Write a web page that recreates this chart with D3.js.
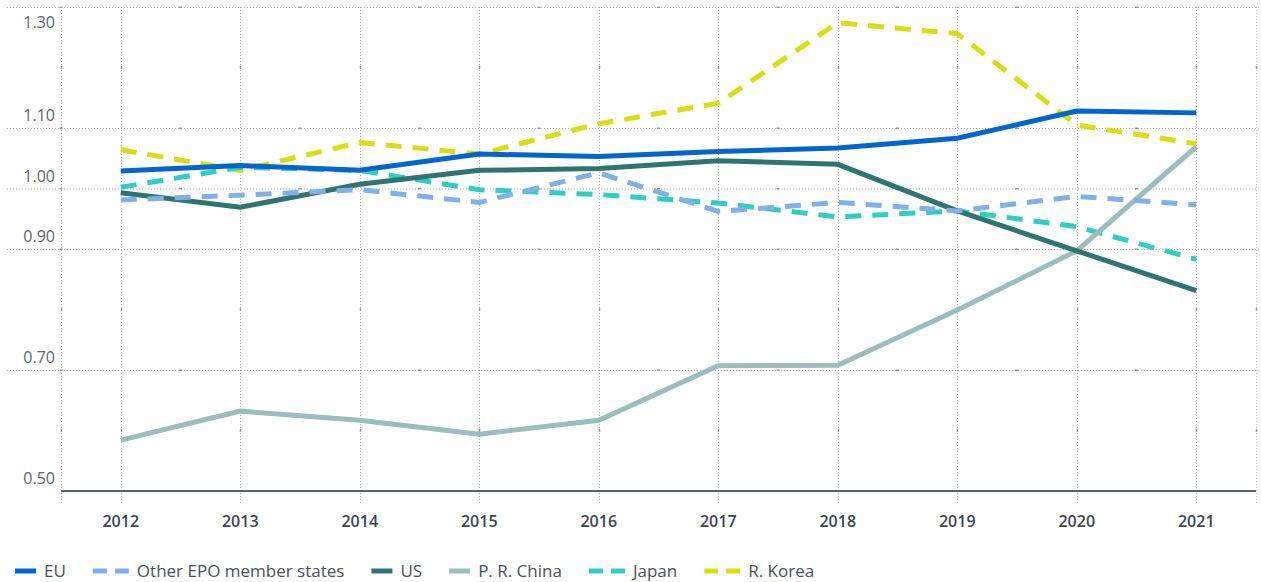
<!DOCTYPE html>
<html>
<head>
<meta charset="utf-8">
<script src="https://cdn.jsdelivr.net/npm/d3@7/dist/d3.min.js"></script>
<style>
  body { margin: 0; background: #fff; }
  text { font-family: "Open Sans", sans-serif; }
</style>
</head>
<body>
<svg id="chart" width="1261" height="582"></svg>
<script>
const years = [2012, 2013, 2014, 2015, 2016, 2017, 2018, 2019, 2020, 2021];
const yTickValues = [0.50, 0.70, 0.90, 1.00, 1.10, 1.30];
const yMinorValues = [0.60, 0.80, 1.20];

const euValues     = [1.029, 1.038, 1.030, 1.057, 1.053, 1.061, 1.067, 1.083, 1.128, 1.125];
const otherValues  = [0.981, 0.989, 0.998, 0.977, 1.026, 0.962, 0.977, 0.963, 0.987, 0.973];
const usValues     = [0.993, 0.969, 1.007, 1.030, 1.033, 1.046, 1.040, 0.963, 0.897, 0.831];
const chinaValues  = [0.584, 0.632, 0.617, 0.594, 0.617, 0.707, 0.708, 0.799, 0.897, 1.069];
const japanValues  = [1.002, 1.035, 1.030, 0.998, 0.990, 0.976, 0.953, 0.963, 0.937, 0.883];
const koreaValues  = [1.064, 1.030, 1.076, 1.057, 1.107, 1.141, 1.274, 1.256, 1.105, 1.074];

const seriesNames = ['EU', 'Other EPO member states', 'US', 'P. R. China', 'Japan', 'R. Korea'];
const seriesColors = ['#0066cc', '#80b0e6', '#2e7570', '#9bbdbb', '#2ecfc0', '#d7de12'];
const seriesDashed = [false, true, false, false, true, true];
const seriesValues = [euValues, otherValues, usValues, chinaValues, japanValues, koreaValues];

const svg = d3.select('#chart');
const width = +svg.attr('width');

const xScale = d3.scaleLinear()
    .domain([years[0] - 0.5, years[years.length - 1] + 0.5])
    .range([61, 1256]);

const yScale = d3.scaleLinear()
    .domain([0.5, 1.3])
    .range([491, 7]);

// grid
const grid = svg.append('g');
const gridColor = '#b4b4b4';

grid.selectAll('.hgrid')
    .data(yTickValues.filter(v => v > 0.5))
    .enter().append('line')
        .attr('x1', 7)
        .attr('x2', width)
        .attr('y1', d => yScale(d) + 0.5)
        .attr('y2', d => yScale(d) + 0.5)
        .attr('stroke', gridColor)
        .attr('stroke-dasharray', '1,2');

const vgridValues = [years[0] - 0.5].concat(years, [years[years.length - 1] + 0.5]);
grid.selectAll('.vgrid')
    .data(vgridValues)
    .enter().append('line')
        .attr('x1', d => Math.round(xScale(d)) + 0.5)
        .attr('x2', d => Math.round(xScale(d)) + 0.5)
        .attr('y1', yScale(1.3))
        .attr('y2', 505)
        .attr('stroke', gridColor)
        .attr('stroke-dasharray', '1,2');

// little minor marks on the grid
const halfYears = years.slice(0, -1).map(y => y + 0.5).concat([years[0] - 0.5]);
yTickValues.filter(v => v > 0.5).forEach(v => {
    grid.selectAll(null)
        .data(halfYears)
        .enter().append('rect')
            .attr('x', d => xScale(d) - 1.5)
            .attr('y', yScale(v) - 0.5)
            .attr('width', 3)
            .attr('height', 1.5)
            .attr('fill', '#999');
});
yMinorValues.forEach(v => {
    grid.selectAll(null)
        .data(vgridValues)
        .enter().append('rect')
            .attr('x', d => Math.round(xScale(d)) - 0.25)
            .attr('y', yScale(v) - 1.5)
            .attr('width', 1.5)
            .attr('height', 3)
            .attr('fill', '#999');
});

// x axis line
svg.append('line')
    .attr('x1', xScale(years[0] - 0.5))
    .attr('x2', xScale(years[years.length - 1] + 0.5))
    .attr('y1', yScale(0.5))
    .attr('y2', yScale(0.5))
    .attr('stroke', '#5b616b')
    .attr('stroke-width', 2);

// y labels (sit above their grid line)
svg.selectAll('.ylabel')
    .data(yTickValues)
    .enter().append('text')
        .attr('x', 55)
        .attr('y', d => Math.max(yScale(d) - 7, 28))
        .attr('text-anchor', 'end')
        .style('font-size', '16px')
        .style('fill', '#5d6470')
        .text(d => d3.format('.2f')(d));

// x labels
svg.selectAll('.xlabel')
    .data(years)
    .enter().append('text')
        .attr('x', d => xScale(d))
        .attr('y', 527)
        .attr('text-anchor', 'middle')
        .style('font-size', '16px')
        .style('font-weight', 600)
        .style('fill', '#3e4552')
        .text(d => d);

// lines, EU on top
const line = d3.line()
    .x((d, i) => xScale(years[i]))
    .y(d => yScale(d));

const order = d3.range(seriesNames.length).reverse();
svg.append('g').selectAll('path')
    .data(order)
    .enter().append('path')
        .attr('d', i => line(seriesValues[i]))
        .attr('fill', 'none')
        .attr('stroke', i => seriesColors[i])
        .attr('stroke-width', 5)
        .attr('stroke-dasharray', i => seriesDashed[i] ? '16,11' : null);

// legend
const legend = svg.append('g');
let lx = 15;
seriesNames.forEach((name, i) => {
    const w = seriesDashed[i] ? 36 : 21;
    legend.append('line')
        .attr('x1', lx)
        .attr('x2', lx + w)
        .attr('y1', 571)
        .attr('y2', 571)
        .attr('stroke', seriesColors[i])
        .attr('stroke-width', 5)
        .attr('stroke-dasharray', seriesDashed[i] ? '14,8' : null);
    const t = legend.append('text')
        .attr('x', lx + w + 8)
        .attr('y', 571)
        .attr('dy', '.36em')
        .style('font-size', '17px')
        .style('fill', '#4a505c')
        .text(name);
    lx = lx + w + 8 + t.node().getComputedTextLength() + 27;
});
</script>
</body>
</html>
